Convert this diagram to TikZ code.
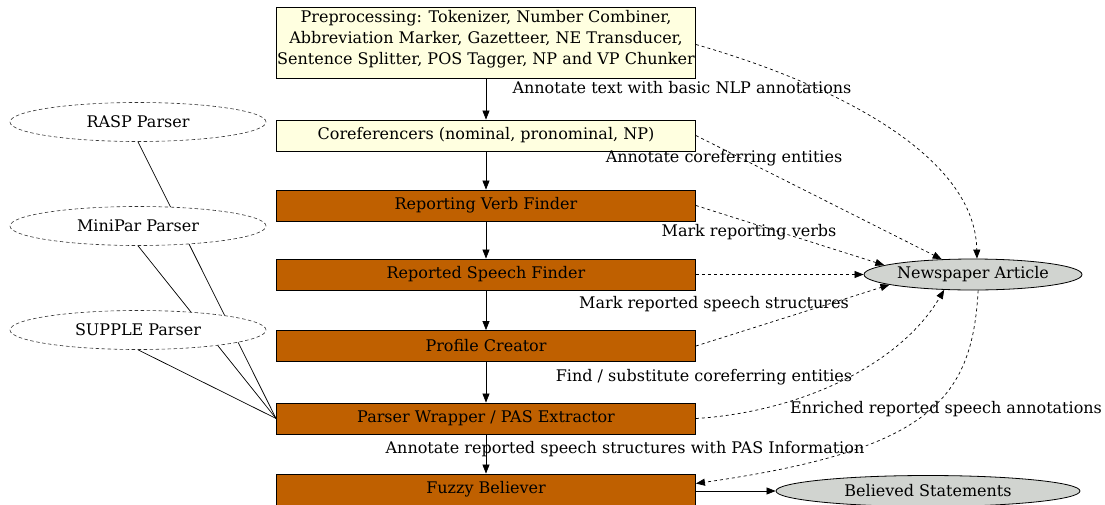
\documentclass[tikz,border=0pt]{standalone}
\usepackage{fontspec}
\setmainfont{DejaVu Serif}
\usetikzlibrary{arrows.meta,backgrounds,shapes.geometric}
\definecolor{stagepale}{HTML}{FFFFE0}
\definecolor{stagedark}{HTML}{BF6000}
\definecolor{docgray}{HTML}{D1D4D0}
\begin{document}
\begin{tikzpicture}[x=1pt,y=-1pt,
  every node/.style={font=\fontsize{16}{21}\selectfont},
  box/.style={draw=black, line width=0.8pt, minimum width=419pt, minimum height=31pt, inner sep=0pt},
  palebox/.style={box, fill=stagepale},
  darkbox/.style={box, fill=stagedark},
  parser/.style={ellipse, draw=black!80, line width=0.6pt, dash pattern=on 3.5pt off 2.5pt, fill=white,
    minimum width=256pt, minimum height=39pt, inner sep=0pt},
  doc/.style={ellipse, draw=black, fill=docgray, line width=0.8pt, minimum height=31pt, inner sep=0pt},
  flow/.style={-{Triangle[length=9pt,width=7pt]}, line width=0.7pt},
  annot/.style={flow, dash pattern=on 3pt off 3pt},
  feed/.style={line width=0.7pt},
  lbl/.style={inner sep=0pt}
]
\useasboundingbox (0,0) rectangle (1105,504);

% pipeline stages
\node[palebox, minimum height=71pt, text depth=11pt, align=center] (pre) at (486,42.5)
  {Preprocessing: Tokenizer, Number Combiner,\\Abbreviation Marker, Gazetteer, NE Transducer,\\Sentence Splitter, POS Tagger, NP and VP Chunker};
\node[palebox] (coref) at (486,135.5) {Coreferencers (nominal, pronominal, NP)};
\node[darkbox] (rvf) at (486,205.5) {Reporting Verb Finder};
\node[darkbox] (rsf) at (486,274.5) {Reported Speech Finder};
\node[darkbox] (pc) at (486,346) {Profile Creator};
\node[darkbox] (pw) at (486,418.5) {Parser Wrapper / PAS Extractor};
\node[darkbox] (fuzzy) at (486,489.5) {Fuzzy Believer};

% external parsers
\node[parser] (rasp) at (138,122) {RASP Parser};
\node[parser] (minipar) at (138,226) {MiniPar Parser};
\node[parser] (supple) at (138,330) {SUPPLE Parser};

% documents
\node[doc, minimum width=218pt] (news) at (973,274.5) {Newspaper Article};
\node[doc, minimum width=304pt] (believed) at (928,491) {Believed Statements};

% parser connections, kept behind the parser ellipses
\begin{pgfonlayer}{background}
  \draw[feed] (rasp.south) -- (pw.west);
  \draw[feed] (minipar.south) -- (pw.west);
  \draw[feed] (supple.south) -- (pw.west);
\end{pgfonlayer}

% main processing chain
\draw[flow] (pre) -- (coref);
\draw[flow] (coref) -- (rvf);
\draw[flow] (rvf) -- (rsf);
\draw[flow] (rsf) -- (pc);
\draw[flow] (pc) -- (pw);
\draw[flow] (pw) -- (fuzzy);
\draw[flow] (fuzzy.east |- believed.west) -- (believed.west);

% annotations written to the article
\draw[annot] ([yshift=-2pt]pre.east) .. controls (820,80) and (975,150) .. (news.76);
\draw[annot] (coref.east) -- (news.154);
\draw[annot] (rvf.east) -- (news.174);
\draw[annot] (rsf.east) -- (news.west);
\draw[annot] (pc.east) -- (news.187);
\draw[annot] (pw.east) .. controls (800,412) and (900,365) .. (news.208);
\draw[annot] (news.288) .. controls (972,400) and (930,450) .. ([yshift=6pt]fuzzy.east);

% edge labels
\node[lbl] (l1) at (682,88) {Annotate text with basic NLP annotations};
\node[lbl] (l2) at (724,158) {Annotate coreferring entities};
\node[lbl] (l3) at (749,232) {Mark reporting verbs};
\node[lbl] (l4) at (714,304) {Mark reported speech structures};
\node[lbl] (l5) at (704,377) {Find / substitute coreferring entities};
\node[lbl] (l6) at (946,409) {Enriched reported speech annotations};
\node[lbl] (l7) at (625,449) {Annotate reported speech structures with PAS Information};
\end{tikzpicture}
\end{document}
